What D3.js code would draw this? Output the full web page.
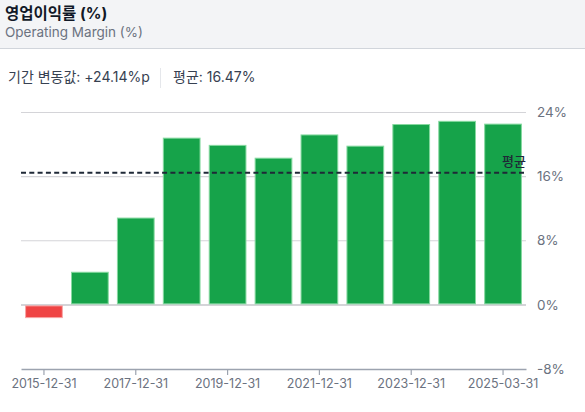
<!DOCTYPE html>
<meta charset="utf-8">
<title>영업이익률</title>
<style>
body {
  margin: 0px;
  background: #fff;
}
svg text {
  font-family: Inter, "Noto Sans CJK KR", sans-serif;
}
</style>
<script src="https://d3js.org/d3.v7.min.js"></script>
<body>
<script>
// chart values
var dates = ["2015-12-31", "2016-12-31", "2017-12-31", "2018-12-31", "2019-12-31",
  "2020-12-31", "2021-12-31", "2022-12-31", "2023-12-31", "2024-12-31", "2025-03-31"];
var margins = [-1.59, 4.07, 10.83, 20.8, 19.9, 18.3, 21.2, 19.8, 22.5, 22.9, 22.55];
var shownTicks = ["2015-12-31", "2017-12-31", "2019-12-31", "2021-12-31", "2023-12-31", "2025-03-31"];
var yTicks = [-8, 0, 8, 16, 24];
var avgValue = 16.47;
var changeValue = 24.14;

var width = 585, height = 412;

var svg = d3.select("body").append("svg")
    .attr("width", width)
    .attr("height", height);

// header
svg.append("rect")
    .attr("width", width).attr("height", 48)
    .attr("fill", "#f3f4f6");
svg.append("line")
    .attr("x1", 0).attr("x2", width)
    .attr("y1", 48.5).attr("y2", 48.5)
    .attr("stroke", "#d1d5db");
svg.append("text")
    .attr("x", 5).attr("y", 19)
    .attr("font-size", 15.5).attr("font-weight", 700)
    .attr("fill", "#111827")
    .text("영업이익률 (%)");
svg.append("text")
    .attr("x", 5).attr("y", 37)
    .attr("font-size", 13.5)
    .attr("fill", "#6b7280")
    .text("Operating Margin (%)");

// stats row
svg.append("text")
    .attr("x", 8).attr("y", 82)
    .attr("font-size", 14).attr("fill", "#374151")
    .text("기간 변동값: +" + changeValue.toFixed(2) + "%p");
svg.append("line")
    .attr("x1", 160.5).attr("x2", 160.5)
    .attr("y1", 68).attr("y2", 88)
    .attr("stroke", "#e5e7eb");
svg.append("text")
    .attr("x", 173).attr("y", 82)
    .attr("font-size", 14).attr("fill", "#374151")
    .text("평균: " + avgValue.toFixed(2) + "%");

// scales
var x = d3.scaleBand()
    .domain(dates)
    .range([21, 526])
    .paddingInner(0.2)
    .paddingOuter(0.1);
var y = d3.scaleLinear()
    .domain([-8, 24])
    .range([369, 112.5]);

// grid
svg.append("g").selectAll("line")
    .data(yTicks.filter(function(d) { return d > -8; }))
  .enter().append("line")
    .attr("x1", 21).attr("x2", 526)
    .attr("y1", function(d) { return y(d); })
    .attr("y2", function(d) { return y(d); })
    .attr("stroke", "#d4d4d8")
    .attr("stroke-width", function(d) { return d == 0 ? 2 : 1.2; });

// bars
svg.append("g").selectAll("rect")
    .data(margins)
  .enter().append("rect")
    .attr("x", function(d, i) { return x(dates[i]); })
    .attr("width", x.bandwidth())
    .attr("y", function(d) { return d >= 0 ? y(d) : y(0) + 1; })
    .attr("height", function(d) { return d >= 0 ? y(0) - 1 - y(d) : y(d) - y(0) - 1; })
    .attr("fill", function(d) { return d >= 0 ? "#16a34a" : "#ef4444"; })
    .attr("stroke", function(d) { return d >= 0 ? "#86d9a0" : "#f8a5a5"; })
    .attr("stroke-width", 1);

// average line
svg.append("line")
    .attr("x1", 21).attr("x2", 526)
    .attr("y1", y(avgValue)).attr("y2", y(avgValue))
    .attr("stroke", "#1f2937")
    .attr("stroke-width", 2)
    .attr("stroke-dasharray", "5,3.3");
svg.append("text")
    .attr("x", 526).attr("y", y(avgValue) - 7)
    .attr("text-anchor", "end")
    .attr("font-size", 13)
    .attr("font-weight", 500)
    .attr("fill", "#1f2937")
    .text("평균");

// y axis labels
svg.append("g").selectAll("text")
    .data(yTicks)
  .enter().append("text")
    .attr("x", 537)
    .attr("y", function(d) { return y(d); })
    .attr("dy", "0.35em")
    .attr("font-size", 13.5)
    .attr("fill", "#6b7280")
    .text(function(d) { return d + "%"; });

// x axis
var xAxis = svg.append("g")
    .attr("transform", "translate(0," + 369 + ")")
    .call(d3.axisBottom(x).tickValues(shownTicks).tickSize(6).tickSizeOuter(0).tickPadding(4));
xAxis.select(".domain").attr("stroke", "#9ca3af").attr("stroke-width", 1.5);
xAxis.selectAll(".tick line").attr("stroke", "#9ca3af").attr("stroke-width", 1.2);
xAxis.selectAll(".tick text")
    .attr("font-size", 12.5)
    .attr("fill", "#6b7280")
    .attr("font-family", "Inter, sans-serif");
</script>
